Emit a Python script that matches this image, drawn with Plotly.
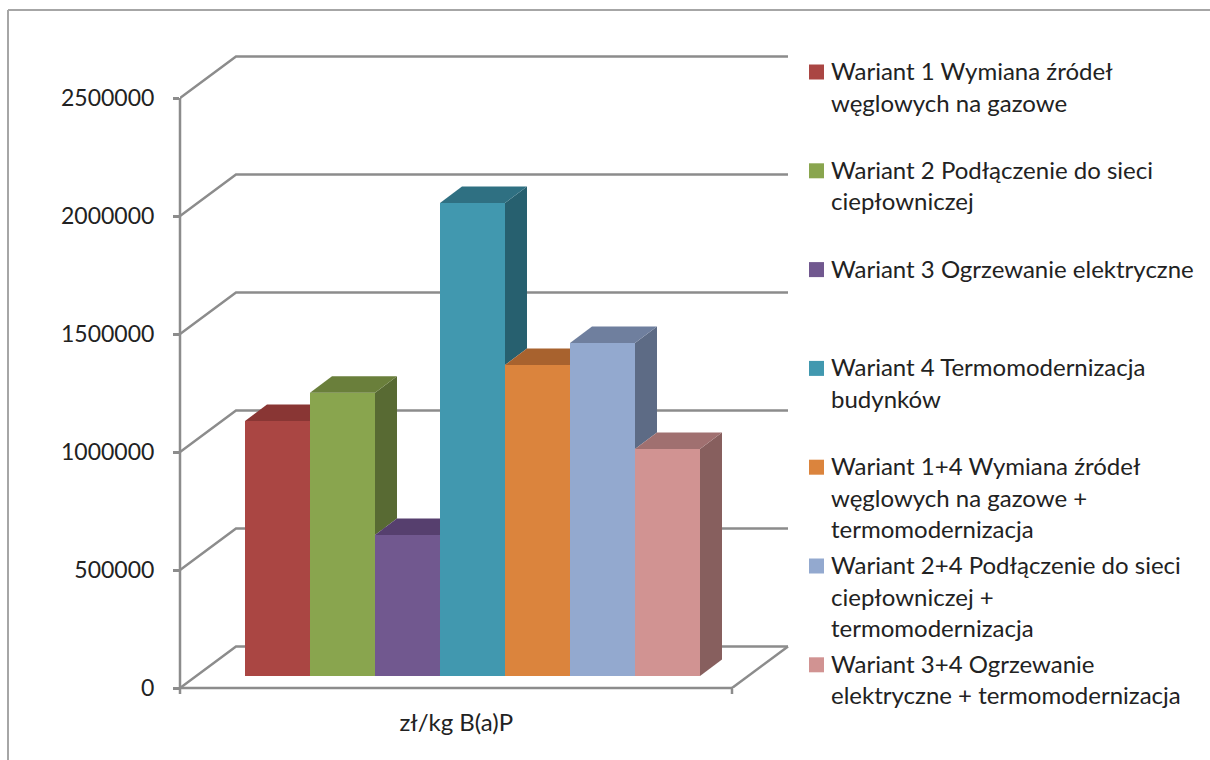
import plotly.graph_objects as go

# ---- data ----
LABELS = [
    ["Wariant 1 Wymiana źródeł", "węglowych na gazowe"],
    ["Wariant 2 Podłączenie do sieci", "ciepłowniczej"],
    ["Wariant 3 Ogrzewanie elektryczne"],
    ["Wariant 4 Termomodernizacja", "budynków"],
    ["Wariant 1+4 Wymiana źródeł", "węglowych na gazowe +", "termomodernizacja"],
    ["Wariant 2+4 Podłączenie do sieci", "ciepłowniczej +", "termomodernizacja"],
    ["Wariant 3+4 Ogrzewanie", "elektryczne + termomodernizacja"],
]
VALUES = [1080000, 1200000, 597000, 2004000, 1318000, 1411000, 962000]
COLORS = ["#AA4643", "#89A54E", "#71588F", "#4198AF", "#DB843D", "#93A9CF", "#D19392"]
TOPS = ["#893634", "#6A7F3B", "#563F6E", "#2F7082", "#A8622E", "#6F7F9E", "#A07070"]
SIDES = ["#723030", "#586A33", "#4A3A5E", "#27606F", "#8F5327", "#5D6B85", "#875F5E"]
CATEGORY = "zł/kg B(a)P"
Y_TICKS = [0, 500000, 1000000, 1500000, 2000000, 2500000]

# ---- pseudo-3D projection ----
FONT = "Lato"
AXIS = "#8c8c8c"
LINE_W = 2.5
PX_PER_SLOT = 65.0
PX_PER_UNIT = 590.0 / 2500000
LEFT, RIGHT, TOP, BOTTOM = 180, 800, 46, 688
WALL_DX = 56 / PX_PER_SLOT           # wall depth in slots
WALL_DY = 41.5 / PX_PER_UNIT         # wall depth in value units
FLOOR_END = 552 / PX_PER_SLOT        # front edge length of floor
BAR_DX = 22 / PX_PER_SLOT
BAR_DY = 16.5 / PX_PER_UNIT
BAR_BASE = 12 / PX_PER_UNIT          # bars stand a little behind the front edge
FIRST_SLOT = 1.0

x_range = [0, (RIGHT - LEFT) / PX_PER_SLOT]
y_range = [0, (BOTTOM - TOP) / PX_PER_UNIT]


def polygon(xs, ys, color):
    return go.Scatter(x=xs + xs[:1], y=ys + ys[:1], mode="lines", fill="toself",
                      fillcolor=color, line=dict(width=0), hoverinfo="skip",
                      showlegend=False)


def px(x):
    return (x - LEFT) / (RIGHT - LEFT)


def py(y):
    return (BOTTOM - y) / (BOTTOM - TOP)


fig = go.Figure()

# front faces
for i, (lab, v) in enumerate(zip(LABELS, VALUES)):
    fig.add_trace(go.Bar(x=[FIRST_SLOT + i + 0.5], y=[v], base=[BAR_BASE], width=[1.0],
                         marker=dict(color=COLORS[i], line=dict(width=0)),
                         name=" ".join(lab), showlegend=False))

# side and top faces, hidden where the next bar covers them
for i, v in enumerate(VALUES):
    L, R = FIRST_SLOT + i, FIRST_SLOT + i + 1
    top = BAR_BASE + v
    nxt = BAR_BASE + VALUES[i + 1] if i + 1 < len(VALUES) else BAR_BASE
    if top > nxt:
        fig.add_trace(polygon([R, R + BAR_DX, R + BAR_DX, R],
                              [nxt, nxt + BAR_DY, top + BAR_DY, top], SIDES[i]))
    if nxt <= top:
        xs = [L, R, R + BAR_DX, L + BAR_DX]
        ys = [top, top, top + BAR_DY, top + BAR_DY]
    elif nxt >= top + BAR_DY:
        xs = [L, R, R, L + BAR_DX]
        ys = [top, top, top + BAR_DY, top + BAR_DY]
    else:
        cut = R + BAR_DX * (top + BAR_DY - nxt) / BAR_DY
        xs = [L, R, R, cut, L + BAR_DX]
        ys = [top, top, nxt, top + BAR_DY, top + BAR_DY]
    fig.add_trace(polygon(xs, ys, TOPS[i]))

shapes = []
# walls: gridlines run back from the axis then along the back wall
for t in Y_TICKS:
    shapes.append(dict(type="path", layer="below", xref="x", yref="y",
                       path=f"M 0 {t} L {WALL_DX} {t + WALL_DY} L {FLOOR_END + WALL_DX} {t + WALL_DY}",
                       line=dict(color=AXIS, width=LINE_W)))
# floor right edge
shapes.append(dict(type="line", layer="below", xref="x", yref="y",
                   x0=FLOOR_END, y0=0, x1=FLOOR_END + WALL_DX, y1=WALL_DY,
                   line=dict(color=AXIS, width=LINE_W)))
# front axis lines with the ticks below the floor
shapes.append(dict(type="line", xref="paper", yref="paper", x0=px(180), x1=px(180),
                   y0=py(694), y1=py(BOTTOM - Y_TICKS[-1] * PX_PER_UNIT),
                   line=dict(color=AXIS, width=LINE_W)))
shapes.append(dict(type="line", xref="paper", yref="paper", x0=px(180), x1=px(LEFT + FLOOR_END * PX_PER_SLOT),
                   y0=py(BOTTOM), y1=py(BOTTOM), line=dict(color=AXIS, width=LINE_W)))
shapes.append(dict(type="line", xref="paper", yref="paper",
                   x0=px(LEFT + FLOOR_END * PX_PER_SLOT), x1=px(LEFT + FLOOR_END * PX_PER_SLOT),
                   y0=py(BOTTOM), y1=py(694), line=dict(color=AXIS, width=LINE_W)))

# chart frame (runs off the right and bottom of the page)
shapes.append(dict(type="line", xref="paper", yref="paper", x0=px(8), x1=px(8), y0=py(10), y1=py(770),
                   line=dict(color="#a6a6a6", width=2)))
shapes.append(dict(type="line", xref="paper", yref="paper", x0=px(8), x1=px(1220), y0=py(10), y1=py(10),
                   line=dict(color="#a6a6a6", width=2)))

# legend: swatch + text lines, on an even pitch
annotations = []
LEG_TOP, LEG_PITCH, LINE_STEP = 71.5, 98.8, 31.5
for i, lines in enumerate(LABELS):
    y0 = LEG_TOP + i * LEG_PITCH
    shapes.append(dict(type="rect", xref="paper", yref="paper",
                       x0=px(809), x1=px(824), y0=py(y0 - 7), y1=py(y0 + 8),
                       fillcolor=COLORS[i], line=dict(width=0)))
    for j, text in enumerate(lines):
        annotations.append(dict(text=text, xref="paper", yref="paper", x=px(829),
                                y=py(y0 - 1 + j * LINE_STEP), xanchor="left", yanchor="middle",
                                showarrow=False, font=dict(family=FONT, size=24, color="#222222")))

fig.update_layout(
    width=1210, height=760, autosize=False, showlegend=False,
    margin=dict(l=LEFT, r=1210 - RIGHT, t=TOP, b=760 - BOTTOM),
    paper_bgcolor="white", plot_bgcolor="white", barmode="overlay",
    shapes=shapes, annotations=annotations,
    font=dict(family=FONT, size=24, color="#222222"),
    xaxis=dict(range=x_range, showgrid=False, zeroline=False, showline=False, ticks="",
               tickvals=[FIRST_SLOT + 3.25], ticktext=[CATEGORY], ticklabelstandoff=18,
               tickfont=dict(family=FONT, size=24, color="#222222")),
    yaxis=dict(range=y_range, showgrid=False, zeroline=False, showline=False,
               tickvals=Y_TICKS, ticktext=[str(t) for t in Y_TICKS], ticks="outside",
               ticklen=6, tickwidth=LINE_W, tickcolor=AXIS, ticklabelstandoff=14,
               tickfont=dict(family=FONT, size=23, color="#222222")),
)

fig.write_html("out.html", config={"displayModeBar": False},
               post_script="document.body.style.margin='0';")
